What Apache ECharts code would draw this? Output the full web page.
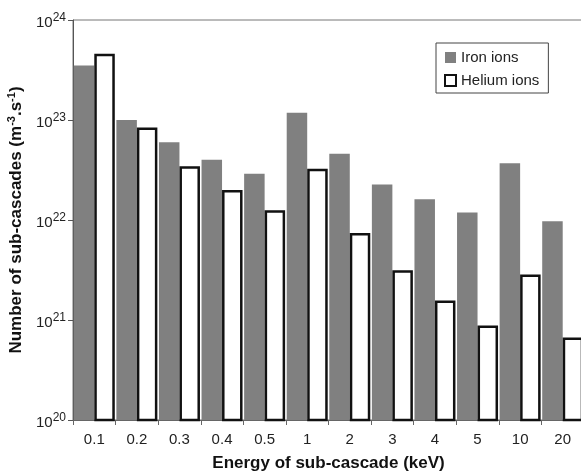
<!DOCTYPE html>
<html>
<head>
<meta charset="utf-8">
<script src="https://cdn.jsdelivr.net/npm/echarts@6/dist/echarts.min.js"></script>
<style>
html,body{margin:0;padding:0;background:#fff;}
#chart{width:581px;height:475px;}
</style>
</head>
<body>
<div id="chart"></div>
<script>
var categories = ['0.1','0.2','0.3','0.4','0.5','1','2','3','4','5','10','20'];
var ironIons = [3.5e23, 1.0e23, 6.0e22, 4.0e22, 2.9e22, 1.18e23, 4.6e22, 2.27e22, 1.61e22, 1.19e22, 3.7e22, 9.7e21];
var heliumIons = [4.6e23, 8.4e22, 3.45e22, 2.0e22, 1.25e22, 3.25e22, 7.4e21, 3.15e21, 1.57e21, 8.8e20, 2.85e21, 6.7e20];
var yTickExponents = [20, 21, 22, 23, 24];

var chart = echarts.init(document.getElementById('chart'), null, {renderer: 'canvas'});
var font = 'Liberation Sans, Arial, sans-serif';
chart.setOption({
  animation: false,
  backgroundColor: '#fff',
  textStyle: {fontFamily: font},
  grid: {left: 73, top: 20, width: 511, height: 400, outerBoundsMode: 'none', containLabel: false, show: true, borderColor: '#777', borderWidth: 1, backgroundColor: 'transparent'},
  legend: {
    orient: 'vertical',
    left: 436, top: 43,
    padding: [7, 9, 5, 8],
    borderColor: '#444', borderWidth: 1,
    itemWidth: 11, itemHeight: 11, itemGap: 8,
    icon: 'rect',
    textStyle: {fontSize: 15, color: '#222', fontFamily: font, lineHeight: 15},
    data: ['Iron ions', 'Helium ions']
  },
  xAxis: {
    type: 'category',
    data: categories,
    name: 'Energy of sub-cascade (keV)',
    nameLocation: 'middle',
    nameGap: 35,
    nameTextStyle: {fontSize: 17, fontWeight: 'bold', color: '#111', fontFamily: font},
    axisLine: {lineStyle: {color: '#666', width: 1}},
    axisTick: {show: true, length: 5, lineStyle: {color: '#666'}},
    axisLabel: {fontSize: 15, color: '#222', margin: 12, fontFamily: font},
    splitLine: {show: false}
  },
  yAxis: {
    type: 'log',
    logBase: 10,
    min: 1e20, max: 1e24,
    name: 'Number of sub-cascades (m{s|-3}.s{s|-1})',
    nameLocation: 'middle',
    nameGap: 43,
    nameRotate: 90,
    nameTextStyle: {
      fontSize: 17, fontWeight: 'bold', color: '#111', fontFamily: font,
      rich: {s: {fontSize: 11, fontWeight: 'bold', color: '#111', padding: [0, 0, 9, 0], fontFamily: font}}
    },
    axisLine: {show: true, lineStyle: {color: '#555', width: 1}},
    axisTick: {show: true, length: 5, lineStyle: {color: '#555'}},
    minorTick: {show: false},
    splitLine: {show: false},
    axisLabel: {
      margin: 7,
      fontFamily: font,
      formatter: function (v) {
        var e = Math.round(Math.log10(v));
        if (yTickExponents.indexOf(e) < 0) return '';
        return '{a|10}{b|' + e + '}';
      },
      rich: {
        a: {fontSize: 15, color: '#222', fontFamily: font, padding: [6, 0, 0, 0]},
        b: {fontSize: 12, color: '#222', fontFamily: font, padding: [0, 0, 4, 0]}
      }
    }
  },
  series: [
    {
      name: 'Iron ions',
      type: 'bar',
      data: ironIons,
      barWidth: 20.5,
      barGap: '0%',
      itemStyle: {color: '#808080'}
    },
    {
      name: 'Helium ions',
      type: 'bar',
      data: heliumIons,
      barWidth: 20.5,
      barGap: '0%',
      itemStyle: {color: '#ffffff', borderColor: '#111', borderWidth: 2.5}
    }
  ]
});
</script>
</body>
</html>
